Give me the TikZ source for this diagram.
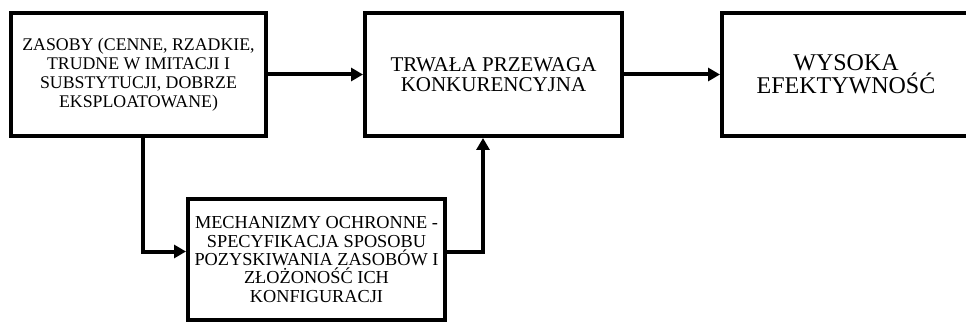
\documentclass[tikz,border=0pt]{standalone}
\usepackage{fontspec}
\setmainfont{Liberation Serif}
\usetikzlibrary{arrows.meta}

\begin{document}
\begin{tikzpicture}[x=1pt,y=-1pt,
  box/.style={draw,line width=4pt,align=center,inner sep=2pt,minimum width=255pt,minimum height=123pt},
  conn/.style={line width=4pt,-{Triangle[length=12pt,width=13pt]}}]
  \useasboundingbox (0,0) rectangle (966,323);
  \node[box,font=\fontsize{17.8}{19}\selectfont] (zas) at (138.5,74.5)
    {ZASOBY (CENNE, RZADKIE,\\ TRUDNE W IMITACJI I\\ SUBSTYTUCJI, DOBRZE\\ EKSPLOATOWANE)};
  \node[box,minimum width=257pt,font=\fontsize{21}{19.5}\selectfont] (prz) at (493.5,74.5)
    {TRWAŁA PRZEWAGA\\ KONKURENCYJNA};
  \node[box,minimum width=248pt,font=\fontsize{24}{23}\selectfont] (efe) at (846,74.5)
    {WYSOKA\\ EFEKTYWNOŚĆ};
  \node[box,minimum width=257pt,minimum height=121pt,font=\fontsize{18.3}{18.3}\selectfont] (mech) at (316.5,259.5)
    {MECHANIZMY OCHRONNE -\\ SPECYFIKACJA SPOSOBU\\ POZYSKIWANIA ZASOBÓW I\\ ZŁOŻONOŚĆ ICH\\ KONFIGURACJI};
  % polaczenia
  \draw[conn] (zas) -- (prz);
  \draw[conn] (prz) -- (efe);
  \draw[conn] ([xshift=4.5pt]zas.south) |- ([yshift=8pt]mech.west);
  \draw[conn] ([yshift=8pt]mech.east) -| ([xshift=-10.5pt]prz.south);
\end{tikzpicture}
\end{document}
